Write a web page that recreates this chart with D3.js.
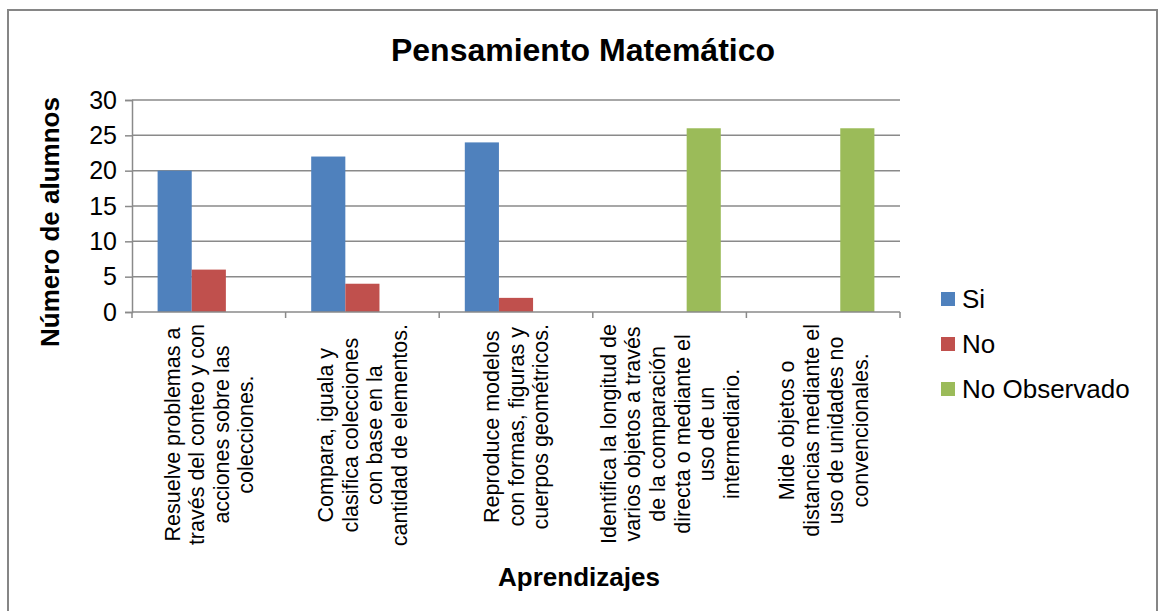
<!DOCTYPE html>
<html>
<head>
<meta charset="utf-8">
<script src="https://cdn.jsdelivr.net/npm/d3@7"></script>
<style>
  body { margin: 0; background: #fff; }
  text { font-family: "Liberation Sans", Arial, sans-serif; fill: #000; }
</style>
</head>
<body>
<svg id="chart"></svg>
<script>
// data
var categories = [
  ["Resuelve problemas a", "través del conteo y con", "acciones sobre las", "colecciones."],
  ["Compara, iguala y", "clasifica colecciones", "con base en la", "cantidad de elementos."],
  ["Reproduce modelos", "con formas, figuras y", "cuerpos geométricos."],
  ["Identifica la longitud de", "varios objetos a través", "de la comparación", "directa o mediante el", "uso de un", "intermediario."],
  ["Mide objetos o", "distancias mediante el", "uso de unidades no", "convencionales."]
];
var seriesNames = ["Si", "No", "No Observado"];
var siValues = [20, 22, 24, 0, 0];
var noValues = [6, 4, 2, 0, 0];
var noObsValues = [0, 0, 0, 26, 26];
var yTicks = [0, 5, 10, 15, 20, 25, 30];

var seriesValues = [siValues, noValues, noObsValues];
var colors = ["#4F81BD", "#C0504D", "#9BBB59"];

// dimensions
var W = 1159, H = 611;
var plot = {left: 132, right: 900, top: 100, bottom: 312};

var svg = d3.select("#chart")
  .attr("width", W)
  .attr("height", H);

// outer border
svg.append("rect")
  .attr("x", 8).attr("y", 10)
  .attr("width", 1149).attr("height", 640)
  .attr("fill", "#fff")
  .attr("stroke", "#868686")
  .attr("stroke-width", 2);

var idx = d3.range(categories.length);

var x0 = d3.scaleBand().domain(idx).range([plot.left, plot.right]).paddingInner(0).paddingOuter(0);
var x1 = d3.scaleBand().domain(d3.range(seriesNames.length)).range([0, x0.bandwidth()])
  .paddingInner(0).paddingOuter(0.75);
var y = d3.scaleLinear().domain([0, 30]).range([plot.bottom, plot.top]);

// gridlines
svg.append("g")
  .selectAll("line")
  .data(yTicks.filter(function(d) { return d > 0; }))
  .enter().append("line")
  .attr("x1", plot.left).attr("x2", plot.right)
  .attr("y1", function(d) { return y(d); })
  .attr("y2", function(d) { return y(d); })
  .attr("stroke", "#8a8a8a")
  .attr("stroke-width", 1.5);

// bars
var groups = svg.append("g")
  .selectAll("g")
  .data(idx)
  .enter().append("g")
  .attr("transform", function(i) { return "translate(" + x0(i) + ",0)"; });

groups.selectAll("rect")
  .data(function(i) { return seriesValues.map(function(s, k) { return {k: k, v: s[i]}; }); })
  .enter().append("rect")
  .filter(function(d) { return d.v > 0; })
  .attr("x", function(d) { return x1(d.k); })
  .attr("width", x1.bandwidth())
  .attr("y", function(d) { return y(d.v); })
  .attr("height", function(d) { return y(0) - y(d.v); })
  .attr("fill", function(d) { return colors[d.k]; });

// Y axis
var yAxis = svg.append("g")
  .attr("transform", "translate(" + plot.left + ",0)")
  .call(d3.axisLeft(y).tickValues(yTicks).tickSize(7).tickPadding(8));
yAxis.select(".domain").attr("stroke", "#8a8a8a").attr("stroke-width", 1.5);
yAxis.selectAll(".tick line").attr("stroke", "#8a8a8a").attr("stroke-width", 1.5);
yAxis.selectAll(".tick text")
  .style("font-size", "25px")
  .style("font-family", "Liberation Sans, Arial, sans-serif")
  .attr("fill", "#000");

// X axis line with category boundary ticks
var xAxis = svg.append("g");
xAxis.append("line")
  .attr("x1", plot.left).attr("x2", plot.right)
  .attr("y1", y(0)).attr("y2", y(0))
  .attr("stroke", "#8a8a8a").attr("stroke-width", 1.5);
xAxis.selectAll("line.tk")
  .data(d3.range(categories.length + 1))
  .enter().append("line")
  .attr("class", "tk")
  .attr("x1", function(i) { return plot.left + i * x0.step(); })
  .attr("x2", function(i) { return plot.left + i * x0.step(); })
  .attr("y1", y(0)).attr("y2", y(0) + 6)
  .attr("stroke", "#8a8a8a").attr("stroke-width", 1.5);

// category labels, rotated and centered line by line
var lineGap = 24.6;
idx.forEach(function(i) {
  var lines = categories[i];
  var cx = x0(i) + x0.bandwidth() / 2;
  var g = svg.append("g")
    .attr("transform", "translate(" + cx + "," + (plot.bottom + 12) + ") rotate(-90)");
  var texts = g.selectAll("text")
    .data(lines)
    .enter().append("text")
    .attr("text-anchor", "middle")
    .style("font-size", "21.5px")
    .attr("y", function(d, j) { return (j - (lines.length - 1) / 2) * lineGap; })
    .attr("dy", "0.36em")
    .text(function(d) { return d; });
  var maxLen = d3.max(texts.nodes(), function(n) { return n.getComputedTextLength(); });
  texts.attr("x", -maxLen / 2);
});

// title
svg.append("text")
  .attr("x", 583).attr("y", 61)
  .attr("text-anchor", "middle")
  .style("font-size", "32px").style("font-weight", "bold")
  .text("Pensamiento Matemático");

// axis titles
svg.append("text")
  .attr("transform", "translate(59,222) rotate(-90)")
  .attr("text-anchor", "middle")
  .style("font-size", "26px").style("font-weight", "bold")
  .text("Número de alumnos");

svg.append("text")
  .attr("x", 579).attr("y", 586)
  .attr("text-anchor", "middle")
  .style("font-size", "26px").style("font-weight", "bold")
  .text("Aprendizajes");

// legend
var legend = svg.append("g")
  .selectAll("g")
  .data(seriesNames)
  .enter().append("g")
  .attr("transform", function(d, k) { return "translate(941," + (299 + k * 45) + ")"; });
legend.append("rect")
  .attr("x", 0).attr("y", -7)
  .attr("width", 14).attr("height", 14)
  .attr("fill", function(d, k) { return colors[k]; });
legend.append("text")
  .attr("x", 21).attr("dy", "0.36em")
  .style("font-size", "26px")
  .text(function(d) { return d; });
</script>
</body>
</html>
